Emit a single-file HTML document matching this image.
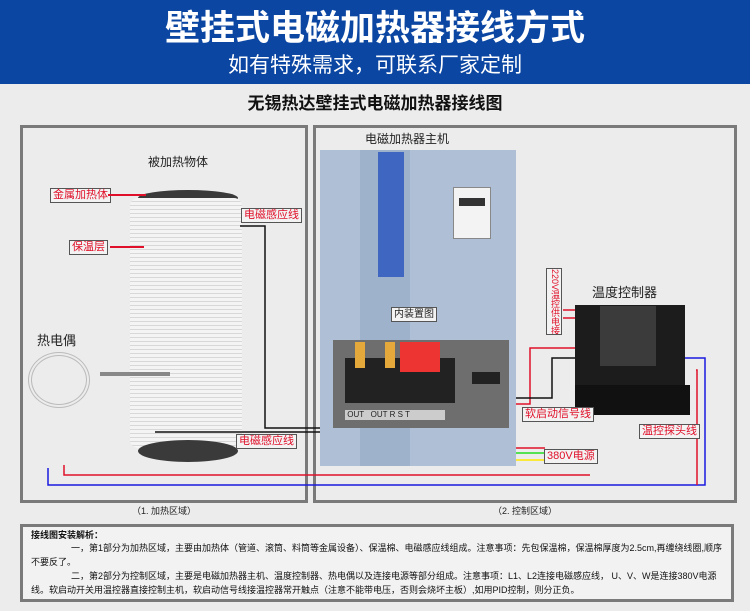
<!DOCTYPE html>
<html><head><meta charset="utf-8"><style>
*{margin:0;padding:0;box-sizing:border-box}
body{width:750px;height:611px;background:#ececec;position:relative;overflow:hidden;font-family:"Liberation Sans","Noto Sans CJK SC",sans-serif}
.a{position:absolute}
.lbl{position:absolute;background:#f3f3f3;border:1.5px solid #555;color:#e0102a;font-size:11px;line-height:13px;padding:0 2px;white-space:nowrap}
</style></head><body>
<div class="a" style="left:0;top:0;width:750px;height:84px;background:#0b46a2"></div>
<div class="a" style="left:0;top:8px;width:750px;text-align:center;color:#fff;font-size:35px;font-weight:bold;line-height:42px">壁挂式电磁加热器接线方式</div>
<div class="a" style="left:0;top:52px;width:750px;text-align:center;color:#fff;font-size:21px;line-height:28px">如有特殊需求，可联系厂家定制</div>
<div class="a" style="left:0;top:92px;width:750px;text-align:center;color:#111;font-size:17px;font-weight:bold;line-height:24px">无锡热达壁挂式电磁加热器接线图</div>

<div class="a" style="left:20px;top:125px;width:288px;height:378px;border:3px solid #7a7a7a"></div>
<div class="a" style="left:313px;top:125px;width:424px;height:378px;border:3px solid #7a7a7a"></div>
<div class="a" style="left:20px;top:504px;width:288px;text-align:center;font-size:9px;color:#222">（1. 加热区域）</div>
<div class="a" style="left:313px;top:504px;width:424px;text-align:center;font-size:9px;color:#222">（2. 控制区域）</div>

<!-- left panel -->
<div class="a" style="left:148px;top:153px;font-size:12px;color:#222">被加热物体</div>
<div class="a" style="left:138px;top:190px;width:100px;height:16px;background:#3a3a3a;border-radius:50%"></div>
<div class="a" style="left:130px;top:198px;width:112px;height:250px;background:repeating-linear-gradient(#f4f4f4 0 3px,#d8d8d8 3px 4px);border-radius:8px"></div>
<div class="a" style="left:138px;top:440px;width:100px;height:22px;background:#3a3a3a;border-radius:50%"></div>
<div class="lbl" style="left:50px;top:188px">金属加热体</div>
<div class="a" style="left:108px;top:194px;width:38px;height:2px;background:#e0102a"></div>
<div class="lbl" style="left:69px;top:240px">保温层</div>
<div class="a" style="left:110px;top:246px;width:34px;height:2px;background:#e0102a"></div>
<div class="lbl" style="left:241px;top:208px">电磁感应线</div>
<div class="lbl" style="left:236px;top:434px">电磁感应线</div>
<div class="a" style="left:37px;top:330px;font-size:13px;color:#222">热电偶</div>
<div class="a" style="left:28px;top:352px;width:62px;height:56px;border:4px double #bbb;border-radius:50%"></div>
<div class="a" style="left:100px;top:372px;width:70px;height:4px;background:#888"></div>

<!-- wires -->
<svg class="a" style="left:0;top:0" width="750" height="611">
<polyline points="240,226 265,226 265,428 330,428" fill="none" stroke="#111" stroke-width="1.5"/>
<polyline points="155,432 330,432" fill="none" stroke="#111" stroke-width="1.5"/>
<polyline points="64,465 64,475 590,475" fill="none" stroke="#e0102a" stroke-width="1.5"/>
<polyline points="48,468 48,485 705,485 705,358 678,358" fill="none" stroke="#1a1ae0" stroke-width="1.5"/>
<polyline points="696,370 697,370 697,485" fill="none" stroke="#e0102a" stroke-width="1.5"/>
<polyline points="408,390 408,460 545,460" fill="none" stroke="#ffe800" stroke-width="1.5"/>
<polyline points="424,390 424,453 545,453" fill="none" stroke="#22dd22" stroke-width="1.5"/>
<polyline points="440,390 440,448 545,448" fill="none" stroke="#e0102a" stroke-width="1.5"/>
<polyline points="482,385 482,404 530,404 530,348 575,348" fill="none" stroke="#e0102a" stroke-width="1.5"/>
<polyline points="492,385 492,398 552,398 552,358 575,358" fill="none" stroke="#111" stroke-width="1.5"/>
<line x1="563" y1="310" x2="580" y2="310" stroke="#e0102a" stroke-width="1.5"/>
<line x1="563" y1="318" x2="580" y2="318" stroke="#e0102a" stroke-width="1.5"/>
</svg>

<!-- main unit -->
<div class="a" style="left:365px;top:131px;font-size:12px;line-height:16px;color:#222">电磁加热器主机</div>
<div class="a" style="left:320px;top:150px;width:196px;height:316px;background:#aebfd6"></div>
<div class="a" style="left:360px;top:150px;width:50px;height:316px;background:#9fb2cc"></div>
<div class="a" style="left:378px;top:152px;width:26px;height:125px;background:#3f67c2"></div>
<div class="a" style="left:453px;top:187px;width:38px;height:52px;background:#f3f3f3;border:1px solid #888"></div>
<div class="a" style="left:459px;top:198px;width:26px;height:8px;background:#333"></div>
<div class="lbl" style="left:391px;top:307px;color:#222;font-size:10px">内装置图</div>
<div class="a" style="left:333px;top:340px;width:176px;height:88px;background:#6e6e6e"></div>
<div class="a" style="left:345px;top:358px;width:110px;height:45px;background:#222"></div>
<div class="a" style="left:400px;top:342px;width:40px;height:30px;background:#e33"></div>
<div class="a" style="left:355px;top:342px;width:10px;height:26px;background:#e5a83a"></div>
<div class="a" style="left:385px;top:342px;width:10px;height:26px;background:#e5a83a"></div>
<div class="a" style="left:345px;top:410px;width:100px;height:10px;background:#ccc;font-size:8px;line-height:10px;color:#222">&nbsp;OUT &nbsp; OUT R S T</div>
<div class="a" style="left:472px;top:372px;width:28px;height:12px;background:#222"></div>

<!-- controller -->
<div class="a" style="left:546px;top:268px;width:16px;height:67px;border:1.5px solid #555;background:#f3f3f3;color:#e0102a;font-size:9px;line-height:12px;writing-mode:vertical-rl;overflow:hidden;white-space:nowrap">220V温控供电接口</div>
<div class="a" style="left:592px;top:282px;font-size:13px;color:#222">温度控制器</div>
<div class="a" style="left:575px;top:305px;width:110px;height:98px;background:#1c1c1c"></div>
<div class="a" style="left:600px;top:306px;width:56px;height:60px;background:#3b3b3b"></div>
<div class="a" style="left:575px;top:385px;width:115px;height:30px;background:#111"></div>
<div class="lbl" style="left:522px;top:407px">软启动信号线</div>
<div class="lbl" style="left:639px;top:424px">温控探头线</div>
<div class="lbl" style="left:544px;top:449px">380V电源</div>

<!-- bottom notes -->
<div class="a" style="left:20px;top:524px;width:714px;height:78px;border:3px solid #7a7a7a;background:#f2f2f2;padding:3px 8px;font-size:9px;line-height:15px;color:#111">
<div style="font-weight:bold;font-size:9px;line-height:11px">接线图安装解析：</div>
<div style="text-indent:40px;line-height:14px">一，第1部分为加热区域，主要由加热体（管道、滚筒、料筒等金属设备）、保温棉、电磁感应线组成。注意事项：先包保温棉，保温棉厚度为2.5cm,再缠绕线圈,顺序不要反了。</div>
<div style="text-indent:40px;line-height:14px">二，第2部分为控制区域，主要是电磁加热器主机、温度控制器、热电偶以及连接电源等部分组成。注意事项：L1、L2连接电磁感应线， U、V、W是连接380V电源线。软启动开关用温控器直接控制主机，软启动信号线接温控器常开触点（注意不能带电压，否则会烧坏主板）,如用PID控制，则分正负。</div>
</div>
</body></html>
